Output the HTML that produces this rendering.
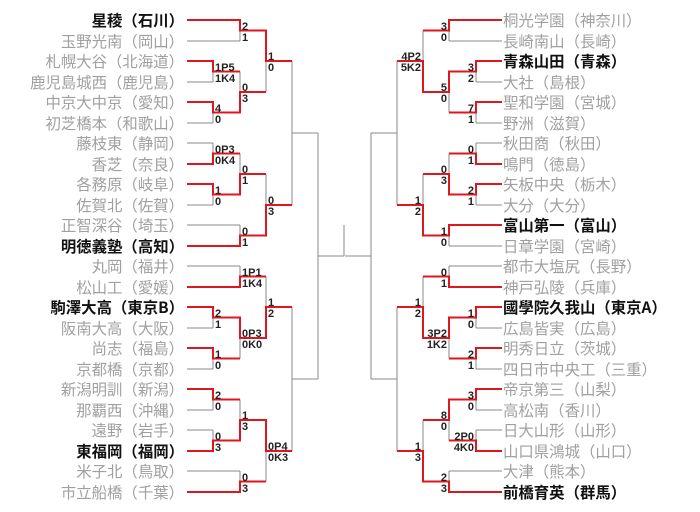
<!DOCTYPE html>
<html><head><meta charset="utf-8"><style>
html,body{margin:0;padding:0;background:#fff;}
svg{display:block;}
.n{font-family:"Noto Sans CJK JP","Liberation Sans",sans-serif;font-size:15.4px;fill:#a0a0a0;}
.w{fill:#111;font-weight:bold;}
.s{font-family:"Liberation Sans",sans-serif;font-size:11px;font-weight:bold;fill:#222;}
</style></head><body>
<svg width="700" height="512" viewBox="0 0 700 512" xmlns="http://www.w3.org/2000/svg">
<defs>
<path id="g" d="M187 20H240M187 41H240M187 61H213M187 82H213M187 102H213M187 123H213M213 61V82M213 102V123M213 71.5H240M213 112.5H240M240 20V41M240 71.5V112.5M240 30.5H266M240 92H266M266 30.5V92M266 61H292
M187 143H213M187 164H213M187 184H213M187 205H213M187 225H240M187 246H240M213 143V164M213 184V205M213 153.5H240M213 194.5H240M240 153.5V194.5M240 225V246M240 174H266M240 235.5H266M266 174V235.5M266 205H292
M187 266H240M187 287H240M187 307H213M187 328H213M187 348H213M187 369H213M213 307V328M213 348V369M213 317.5H240M213 358.5H240M240 266V287M240 317.5V358.5M240 276.5H266M240 338H266M266 276.5V338M266 307H292
M187 389H213M187 410H213M187 430H213M187 451H213M187 471H240M187 492H240M213 389V410M213 430V451M213 399.5H240M213 440.5H240M240 399.5V440.5M240 471V492M240 420H266M240 481.5H266M266 420V481.5M266 451H292
M292 61V205M292 133H318M292 307V451M292 379H318M318 133V379M318 256H344"/>
</defs>
<g fill="none" stroke="#8a8a8a" stroke-width="1">
<use href="#g"/>
<use href="#g" transform="translate(689,0) scale(-1,1)"/>
<path d="M344 225V256"/>
</g>
<g fill="none" stroke="#e0161e" stroke-width="2">
<path d="M187 20H240V30.5H266V61H292M187 61H213V71.5H240M187 102H213V112.5H240V92H266
M187 164H213V153.5H240M187 184H213V194.5H240V174H266M187 246H240V235.5H266V205H292
M187 287H240V276.5H266M187 307H213V317.5H240V338H266V307H292M187 348H213V358.5H240
M187 389H213V399.5H240M187 451H213V440.5H240V420H266V451H292M187 492H240V481.5H266"/>
<path transform="translate(689,0) scale(-1,1)" d="M187 20H240V30.5H266M187 61H213V71.5H240V92H266V61H292M187 102H213V112.5H240
M187 164H213V153.5H240M187 184H213V194.5H240V174H266M187 225H240V235.5H266V205H292
M187 287H240V276.5H266M187 307H213V317.5H240V338H266V307H292M187 348H213V358.5H240
M187 389H213V399.5H240V420H266M187 451H213V440.5H240M187 492H240V481.5H266V451H292"/>
</g>
<g class="n" text-anchor="end">
<text x="184" y="26" class="n w">星稜（石川）</text>
<text x="184" y="47">玉野光南（岡山）</text>
<text x="184" y="67">札幌大谷（北海道）</text>
<text x="184" y="88">鹿児島城西（鹿児島）</text>
<text x="184" y="108">中京大中京（愛知）</text>
<text x="184" y="129">初芝橋本（和歌山）</text>
<text x="184" y="149">藤枝東（静岡）</text>
<text x="184" y="170">香芝（奈良）</text>
<text x="184" y="190">各務原（岐阜）</text>
<text x="184" y="211">佐賀北（佐賀）</text>
<text x="184" y="231">正智深谷（埼玉）</text>
<text x="184" y="252" class="n w">明徳義塾（高知）</text>
<text x="184" y="272">丸岡（福井）</text>
<text x="184" y="293">松山工（愛媛）</text>
<text x="184" y="313" class="n w">駒澤大高（東京B）</text>
<text x="184" y="334">阪南大高（大阪）</text>
<text x="184" y="354">尚志（福島）</text>
<text x="184" y="375">京都橋（京都）</text>
<text x="184" y="395">新潟明訓（新潟）</text>
<text x="184" y="416">那覇西（沖縄）</text>
<text x="184" y="436">遠野（岩手）</text>
<text x="184" y="457" class="n w">東福岡（福岡）</text>
<text x="184" y="477">米子北（鳥取）</text>
<text x="184" y="498">市立船橋（千葉）</text>
</g>
<g class="n">
<text x="503" y="26">桐光学園（神奈川）</text>
<text x="503" y="47">長崎南山（長崎）</text>
<text x="503" y="67" class="n w">青森山田（青森）</text>
<text x="503" y="88">大社（島根）</text>
<text x="503" y="108">聖和学園（宮城）</text>
<text x="503" y="129">野洲（滋賀）</text>
<text x="503" y="149">秋田商（秋田）</text>
<text x="503" y="170">鳴門（徳島）</text>
<text x="503" y="190">矢板中央（栃木）</text>
<text x="503" y="211">大分（大分）</text>
<text x="503" y="231" class="n w">富山第一（富山）</text>
<text x="503" y="252">日章学園（宮崎）</text>
<text x="503" y="272">都市大塩尻（長野）</text>
<text x="503" y="293">神戸弘陵（兵庫）</text>
<text x="503" y="313" class="n w">國學院久我山（東京A）</text>
<text x="503" y="334">広島皆実（広島）</text>
<text x="503" y="354">明秀日立（茨城）</text>
<text x="503" y="375">四日市中央工（三重）</text>
<text x="503" y="395">帝京第三（山梨）</text>
<text x="503" y="416">高松南（香川）</text>
<text x="503" y="436">日大山形（山形）</text>
<text x="503" y="457">山口県鴻城（山口）</text>
<text x="503" y="477">大津（熊本）</text>
<text x="503" y="498" class="n w">前橋育英（群馬）</text>
</g>
<g class="s">
<text x="242" y="30">2</text><text x="242" y="41">1</text>
<text x="215" y="71">1P5</text><text x="215" y="82">1K4</text>
<text x="215" y="112">4</text><text x="215" y="123">0</text>
<text x="242" y="91">0</text><text x="242" y="102">3</text>
<text x="268" y="60">1</text><text x="268" y="71">0</text>
<text x="215" y="153">0P3</text><text x="215" y="164">0K4</text>
<text x="215" y="194">1</text><text x="215" y="205">0</text>
<text x="242" y="173">0</text><text x="242" y="184">1</text>
<text x="242" y="235">0</text><text x="242" y="246">1</text>
<text x="268" y="204">0</text><text x="268" y="215">3</text>
<text x="242" y="276">1P1</text><text x="242" y="287">1K4</text>
<text x="215" y="317">2</text><text x="215" y="328">1</text>
<text x="215" y="358">1</text><text x="215" y="369">0</text>
<text x="242" y="337">0P3</text><text x="242" y="348">0K0</text>
<text x="268" y="306">1</text><text x="268" y="317">2</text>
<text x="215" y="399">2</text><text x="215" y="410">0</text>
<text x="215" y="440">0</text><text x="215" y="451">3</text>
<text x="242" y="419">1</text><text x="242" y="430">3</text>
<text x="242" y="481">0</text><text x="242" y="492">3</text>
<text x="268" y="450">0P4</text><text x="268" y="461">0K3</text>
</g>
<g class="s" text-anchor="end">
<text x="447" y="30">3</text><text x="447" y="41">0</text>
<text x="474" y="71">3</text><text x="474" y="82">2</text>
<text x="474" y="112">7</text><text x="474" y="123">1</text>
<text x="447" y="91">5</text><text x="447" y="102">0</text>
<text x="421" y="60">4P2</text><text x="421" y="71">5K2</text>
<text x="474" y="153">0</text><text x="474" y="164">1</text>
<text x="474" y="194">2</text><text x="474" y="205">1</text>
<text x="447" y="173">0</text><text x="447" y="184">3</text>
<text x="447" y="235">1</text><text x="447" y="246">0</text>
<text x="421" y="204">1</text><text x="421" y="215">2</text>
<text x="447" y="276">0</text><text x="447" y="287">1</text>
<text x="474" y="317">1</text><text x="474" y="328">0</text>
<text x="474" y="358">2</text><text x="474" y="369">1</text>
<text x="447" y="337">3P2</text><text x="447" y="348">1K2</text>
<text x="421" y="306">1</text><text x="421" y="317">2</text>
<text x="474" y="399">3</text><text x="474" y="410">0</text>
<text x="474" y="440">2P0</text><text x="474" y="451">4K0</text>
<text x="447" y="419">8</text><text x="447" y="430">0</text>
<text x="447" y="481">2</text><text x="447" y="492">3</text>
<text x="421" y="450">1</text><text x="421" y="461">3</text>
</g>
</svg>
</body></html>
